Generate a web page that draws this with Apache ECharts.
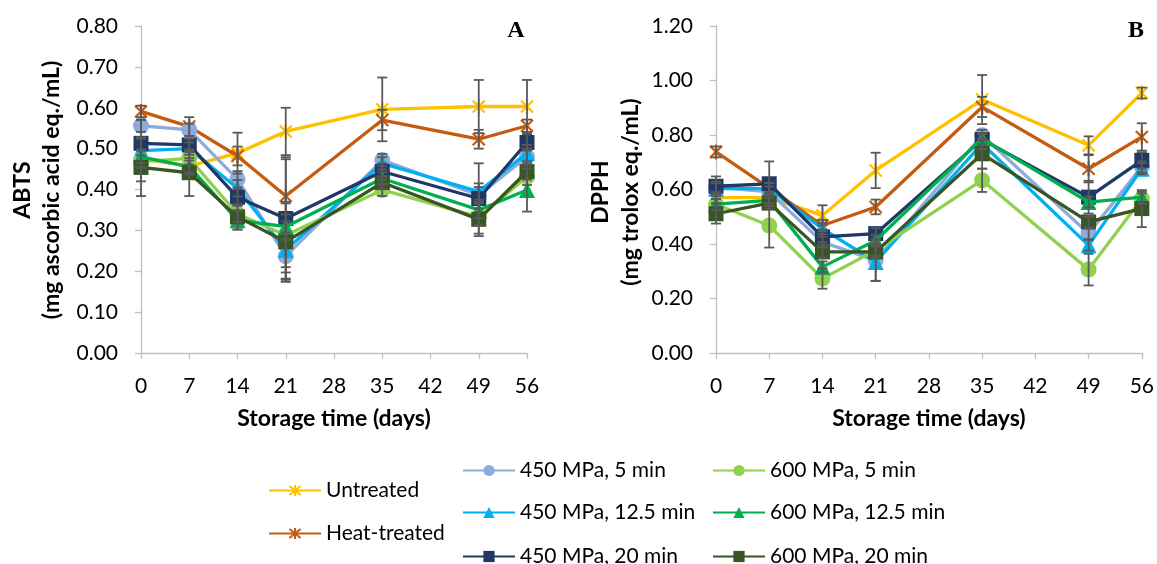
<!DOCTYPE html>
<html>
<head>
<meta charset="utf-8">
<script src="https://cdn.jsdelivr.net/npm/echarts@6/dist/echarts.min.js"></script>
<style>
html,body{margin:0;padding:0;background:#fff;}
#chart{width:1157px;height:564px;}
</style>
</head>
<body>
<div id="chart"></div>
<script>
// ---- Data ----
const days = [0, 7, 14, 21, 35, 49, 56];
const xTicks = [0, 7, 14, 21, 28, 35, 42, 49, 56];
const seriesNames = ['Untreated', 'Heat-treated', '450 MPa, 5 min', '450 MPa, 12.5 min', '450 MPa, 20 min', '600 MPa, 5 min', '600 MPa, 12.5 min', '600 MPa, 20 min'];

// Panel A: ABTS (mg ascorbic acid eq./mL)
const abtsUntreated = [0.475, 0.457, 0.489, 0.542, 0.596, 0.603, 0.603];
const abtsHeat      = [0.591, 0.554, 0.482, 0.384, 0.570, 0.523, 0.556];
const abts450_5     = [0.556, 0.546, 0.425, 0.237, 0.472, 0.386, 0.480];
const abts450_12    = [0.495, 0.500, 0.403, 0.252, 0.464, 0.395, 0.489];
const abts450_20    = [0.513, 0.509, 0.381, 0.329, 0.444, 0.378, 0.515];
const abts600_5     = [0.468, 0.476, 0.340, 0.288, 0.399, 0.333, 0.431];
const abts600_12    = [0.480, 0.456, 0.325, 0.309, 0.427, 0.350, 0.399];
const abts600_20    = [0.454, 0.441, 0.333, 0.272, 0.417, 0.327, 0.444];

const abtsErrUntreated = [0.020, 0.020, 0.050, 0.058, 0.078, 0.065, 0.065];
const abtsErrHeat      = [0.014, 0.023, 0.023, 0.090, 0.025, 0.023, 0.015];
const abtsErr450_5     = [0.015, 0.015, 0.020, 0.040, 0.015, 0.020, 0.020];
const abtsErr450_12    = [0.075, 0.015, 0.020, 0.070, 0.015, 0.020, 0.020];
const abtsErr450_20    = [0.015, 0.015, 0.020, 0.150, 0.020, 0.086, 0.020];
const abtsErr600_5     = [0.015, 0.015, 0.020, 0.078, 0.015, 0.020, 0.020];
const abtsErr600_12    = [0.015, 0.015, 0.023, 0.030, 0.015, 0.020, 0.053];
const abtsErr600_20    = [0.070, 0.057, 0.031, 0.098, 0.015, 0.041, 0.020];

// Panel B: DPPH (mg trolox eq./mL)
const dpphUntreated = [0.570, 0.570, 0.505, 0.670, 0.930, 0.762, 0.954];
const dpphHeat      = [0.738, 0.605, 0.468, 0.536, 0.903, 0.676, 0.793];
const dpph450_5     = [0.609, 0.591, 0.407, 0.340, 0.799, 0.438, 0.683];
const dpph450_12    = [0.603, 0.603, 0.456, 0.334, 0.768, 0.395, 0.676];
const dpph450_20    = [0.612, 0.621, 0.426, 0.438, 0.783, 0.572, 0.707];
const dpph600_5     = [0.546, 0.468, 0.273, 0.377, 0.634, 0.306, 0.566];
const dpph600_12    = [0.546, 0.560, 0.316, 0.413, 0.787, 0.554, 0.572];
const dpph600_20    = [0.511, 0.550, 0.371, 0.371, 0.731, 0.481, 0.530];

const dpphErrUntreated = [0.020, 0.020, 0.037, 0.065, 0.090, 0.033, 0.020];
const dpphErrHeat      = [0.020, 0.020, 0.020, 0.027, 0.037, 0.050, 0.050];
const dpphErr450_5     = [0.020, 0.020, 0.020, 0.075, 0.020, 0.020, 0.020];
const dpphErr450_12    = [0.020, 0.020, 0.020, 0.070, 0.020, 0.020, 0.020];
const dpphErr450_20    = [0.036, 0.082, 0.020, 0.020, 0.020, 0.060, 0.030];
const dpphErr600_5     = [0.020, 0.081, 0.037, 0.020, 0.043, 0.058, 0.020];
const dpphErr600_12    = [0.020, 0.020, 0.020, 0.020, 0.020, 0.020, 0.020];
const dpphErr600_20    = [0.036, 0.020, 0.020, 0.020, 0.055, 0.020, 0.068];

const abtsValues = [abtsUntreated, abtsHeat, abts450_5, abts450_12, abts450_20, abts600_5, abts600_12, abts600_20];
const abtsErrors = [abtsErrUntreated, abtsErrHeat, abtsErr450_5, abtsErr450_12, abtsErr450_20, abtsErr600_5, abtsErr600_12, abtsErr600_20];
const dpphValues = [dpphUntreated, dpphHeat, dpph450_5, dpph450_12, dpph450_20, dpph600_5, dpph600_12, dpph600_20];
const dpphErrors = [dpphErrUntreated, dpphErrHeat, dpphErr450_5, dpphErr450_12, dpphErr450_20, dpphErr600_5, dpphErr600_12, dpphErr600_20];

// ---- Styles ----
const ASTER = 'path://M1,1L9,9M9,1L1,9M5,0L5,10';
const styles = [
  {color: '#FFC000', symbol: ASTER, size: 15, stroke: true},
  {color: '#C55A11', symbol: ASTER, size: 15, stroke: true},
  {color: '#8FAADC', symbol: 'circle', size: 16},
  {color: '#00B0F0', symbol: 'triangle', size: 16},
  {color: '#1F3864', symbol: 'rect', size: 15},
  {color: '#92D050', symbol: 'circle', size: 16},
  {color: '#00B050', symbol: 'triangle', size: 16},
  {color: '#375623', symbol: 'rect', size: 15}
];
const FONT = 'Lato';
const AXIS_COLOR = '#BFBFBF';

function makeLine(name, idx, vals, axisIdx) {
  const st = styles[idx];
  return {
    type: 'line', name: name,
    xAxisIndex: axisIdx, yAxisIndex: axisIdx,
    data: days.map((d, i) => [d, vals[i]]),
    symbol: st.symbol, symbolSize: st.size, symbolKeepAspect: true,
    showAllSymbol: true,
    lineStyle: {color: st.color, width: 3.3},
    itemStyle: st.stroke ? {color: st.color, borderColor: st.color, borderWidth: 2.2} : {color: st.color, borderWidth: 0},
    z: 2 + idx * 0.01,
    emphasis: {disabled: true},
    animation: false
  };
}

function makeErr(valsList, errList, axisIdx) {
  const data = [];
  valsList.forEach((vals, s) => {
    vals.forEach((v, i) => {
      data.push([days[i], v - errList[s][i], v + errList[s][i]]);
    });
  });
  return {
    type: 'custom',
    xAxisIndex: axisIdx, yAxisIndex: axisIdx,
    data: data,
    z: 3,
    silent: true,
    animation: false,
    renderItem: function (params, api) {
      const x = api.value(0);
      const lo = api.coord([x, api.value(1)]);
      const hi = api.coord([x, api.value(2)]);
      const cw = 5;
      const st = {stroke: '#595959', lineWidth: 1.8};
      return {
        type: 'group',
        children: [
          {type: 'line', shape: {x1: hi[0], y1: hi[1], x2: lo[0], y2: lo[1]}, style: st},
          {type: 'line', shape: {x1: hi[0] - cw, y1: hi[1], x2: hi[0] + cw, y2: hi[1]}, style: st},
          {type: 'line', shape: {x1: lo[0] - cw, y1: lo[1], x2: lo[0] + cw, y2: lo[1]}, style: st}
        ]
      };
    }
  };
}

function makeX(gridIndex) {
  return {
    type: 'value', gridIndex: gridIndex, min: xTicks[0], max: xTicks[xTicks.length - 1], interval: 7,
    name: 'Storage time (days)', nameLocation: 'middle', nameGap: 54,
    nameTextStyle: {fontFamily: FONT, fontWeight: 'bold', fontSize: 23, color: '#000'},
    axisLine: {show: true, lineStyle: {color: AXIS_COLOR, width: 1.3}},
    axisTick: {show: true, length: 6, lineStyle: {color: AXIS_COLOR, width: 1.3}},
    axisLabel: {fontFamily: FONT, fontSize: 21, color: '#000', margin: 23},
    splitLine: {show: false}
  };
}
function makeY(gridIndex, max, interval) {
  return {
    type: 'value', gridIndex: gridIndex, min: 0, max: max, interval: interval,
    axisLine: {show: true, lineStyle: {color: AXIS_COLOR, width: 1.3}},
    axisTick: {show: true, length: 6, lineStyle: {color: AXIS_COLOR, width: 1.3}},
    axisLabel: {fontFamily: FONT, fontSize: 21, color: '#000', margin: 23, formatter: v => v.toFixed(2)},
    splitLine: {show: false}
  };
}

const series = [];
seriesNames.forEach((n, i) => series.push(makeLine(n, i, abtsValues[i], 0)));
seriesNames.forEach((n, i) => series.push(makeLine(n, i, dpphValues[i], 1)));
series.push(makeErr(abtsValues, abtsErrors, 0));
series.push(makeErr(dpphValues, dpphErrors, 1));

// legends: one per item for exact placement
const legendPos = [
  [268, 491], [268, 534],
  [462, 471], [462, 513], [462, 557],
  [712, 471], [712, 513], [712, 557]
];
const legends = seriesNames.map((n, i) => ({
  data: [n],
  left: legendPos[i][0], top: legendPos[i][1] - 11,
  itemWidth: 52, itemHeight: 14, itemGap: 0, padding: 0,
  selectedMode: false,
  textStyle: {fontFamily: FONT, fontSize: 21, color: '#000', padding: [0, 0, 0, 0]}
}));

const titleStyle = {fontFamily: FONT, fontWeight: 'bold', fontSize: 23, fill: '#000', align: 'center', verticalAlign: 'middle'};

const option = {
  backgroundColor: '#fff',
  animation: false,
  grid: [
    {left: 141, top: 26, width: 386, height: 327},
    {left: 716, top: 26, width: 428, height: 327}
  ],
  xAxis: [makeX(0), makeX(1)],
  yAxis: [makeY(0, 0.8, 0.1), makeY(1, 1.2, 0.2)],
  legend: legends,
  series: series,
  graphic: [
    {type: 'text', x: 23, y: 190, rotation: Math.PI / 2, style: Object.assign({text: 'ABTS'}, titleStyle)},
    {type: 'text', x: 52, y: 190, rotation: Math.PI / 2, style: Object.assign({text: '(mg ascorbic acid eq./mL)'}, titleStyle)},
    {type: 'text', x: 601, y: 192, rotation: Math.PI / 2, style: Object.assign({text: 'DPPH'}, titleStyle)},
    {type: 'text', x: 631, y: 192, rotation: Math.PI / 2, style: Object.assign({text: '(mg trolox eq./mL)'}, titleStyle)},
    {type: 'text', x: 516, y: 31, style: {text: 'A', fontFamily: 'Liberation Serif', fontWeight: 'bold', fontSize: 24, fill: '#000', align: 'center', verticalAlign: 'middle'}},
    {type: 'text', x: 1136, y: 31, style: {text: 'B', fontFamily: 'Liberation Serif', fontWeight: 'bold', fontSize: 24, fill: '#000', align: 'center', verticalAlign: 'middle'}}
  ]
};

const chart = echarts.init(document.getElementById('chart'), null, {renderer: 'canvas'});
chart.setOption(option);
</script>
</body>
</html>
